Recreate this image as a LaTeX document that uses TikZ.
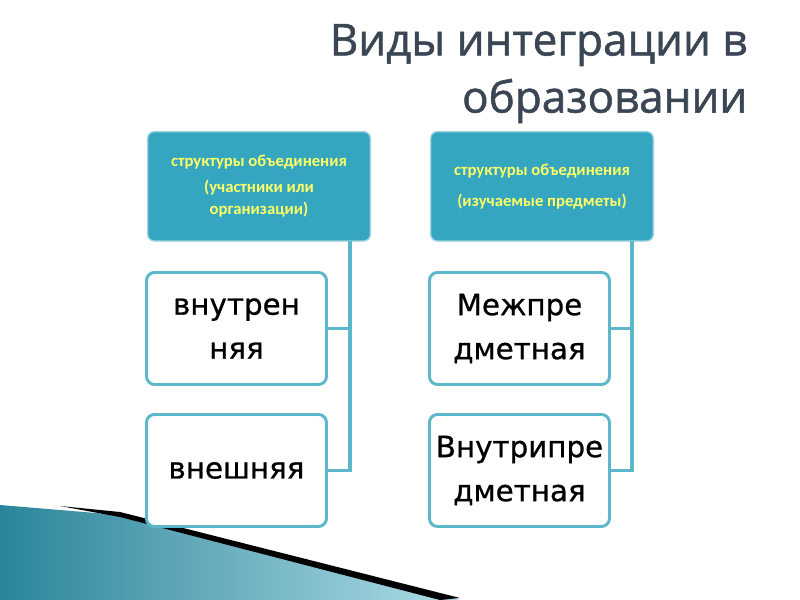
\documentclass[tikz,border=0pt]{standalone}
\usepackage{fontspec}
\setmainfont{DejaVu Sans}
\newfontfamily\smallf{Carlito}
\newfontfamily\ttlf[FakeBold=1.2]{Open Sans}
\newfontfamily\boxf[FakeBold=0.8]{DejaVu Sans}
\usetikzlibrary{shadings}
\definecolor{teal1}{HTML}{35A6C0}
\definecolor{teal2}{HTML}{5CB7CB}
\definecolor{ttl}{HTML}{3B4654}
\definecolor{yel}{HTML}{FFFF66}
\begin{document}
\begin{tikzpicture}[x=0.75pt,y=-0.75pt,
  topbox/.style={draw=teal2!60!white,line width=1pt,fill=teal1,rounded corners=5pt,minimum width=167pt,minimum height=82pt,align=center,text=yel,font=\smallf\bfseries\fontsize{12.5}{17}\selectfont,anchor=north west},
  wbox/.style={draw=teal2,line width=2.2pt,fill=white,rounded corners=6pt,minimum width=135pt,minimum height=84pt,align=center,font=\boxf\fontsize{22}{33}\selectfont,anchor=north west},
  conn/.style={draw=teal2,line width=2.5pt}]
\useasboundingbox (0,0) rectangle (800,600);
\fill[white] (0,0) rectangle (800,600);
% decoration
\shade[left color=teal1!80!black,right color=teal1!40!white] (0,505) -- (120,515) -- (460,600) -- (0,600) -- cycle;
\fill[black] (60,506) -- (120,512) -- (460,598) -- (440,600) -- (120,517) -- cycle;
% title
\node[anchor=east,text=ttl,font=\ttlf\fontsize{33}{40}\selectfont] (t1) at (752,45) {Виды интеграции в};
\node[anchor=east,text=ttl,font=\ttlf\fontsize{33}{40}\selectfont] (t2) at (752,101) {образовании};
% boxes
\node[topbox] (a) at (147,131) {структуры объединения\\[2pt](участники или\\организации)};
\node[topbox] (b) at (430,131) {структуры объединения\\[6pt](изучаемые предметы)};
\node[wbox] (a1) at (145,271) {внутрен\\няя};
\node[wbox] (a2) at (145,413) {внешняя};
\node[wbox] (b1) at (428,271) {Межпре\\дметная};
\node[wbox] (b2) at (428,413) {Внутрипре\\дметная};
% connectors
\coordinate (ca) at (350,241);
\coordinate (cb) at (632,241);
\draw[conn] (ca) |- (a2.east);
\draw[conn] (ca |- a1.east) -- (a1.east);
\draw[conn] (cb) |- (b2.east);
\draw[conn] (cb |- b1.east) -- (b1.east);
\end{tikzpicture}
\end{document}
